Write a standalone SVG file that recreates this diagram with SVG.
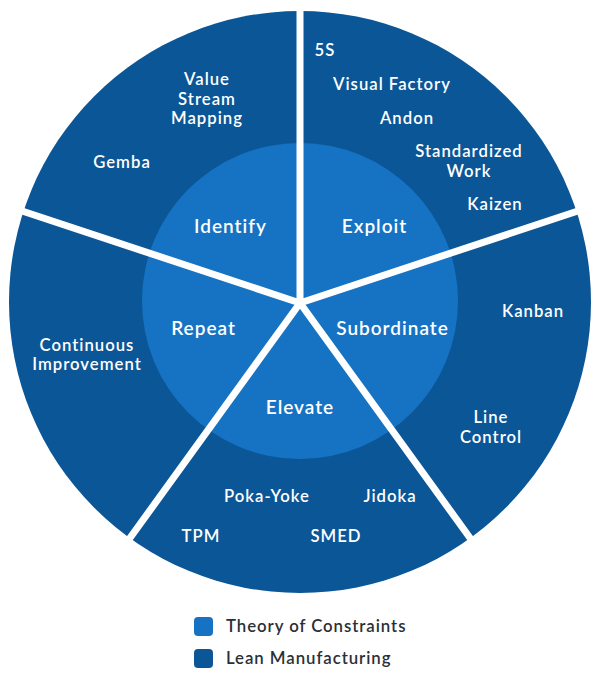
<svg xmlns="http://www.w3.org/2000/svg" width="600" height="689" viewBox="0 0 600 689">
<style>
.t{font-family:Lato,"Open Sans",sans-serif;font-weight:600;font-size:16.7px;fill:#fff;text-anchor:middle;letter-spacing:1px}
.h{font-size:19px}
.l{font-family:Lato,sans-serif;font-weight:600;font-size:16.8px;fill:#2a3038;letter-spacing:.95px}
.s{stroke:#fff;stroke-width:7;fill:none}
</style>
<rect width="600" height="689" fill="#fff"/>
<g id="outer"><circle cx="300" cy="302" r="291" fill="#0b5697"/></g>
<g id="inner"><circle cx="300" cy="301" r="158" fill="#1673c4"/></g>
<g id="connectors">
<path class="s" d="M300 303V0M300 303L590 207M300 303L478 549M300 303L122 549M300 303L10 207"/>
</g>
<g id="identify"><text class="t h" x="230.500" y="233">Identify</text></g>
<g id="exploit"><text class="t h" x="374.500" y="233">Exploit</text></g>
<g id="subordinate"><text class="t h" x="392.500" y="335">Subordinate</text></g>
<g id="elevate"><text class="t h" x="300" y="414">Elevate</text></g>
<g id="repeat"><text class="t h" x="203.500" y="335">Repeat</text></g>
<g id="vsm"><text class="t" x="207" y="85">Value</text><text class="t" x="207" y="105">Stream</text><text class="t" x="207" y="124">Mapping</text></g>
<g id="gemba"><text class="t" x="122" y="168">Gemba</text></g>
<g id="s5"><text class="t" x="325" y="56">5S</text></g>
<g id="vf"><text class="t" x="392" y="90">Visual Factory</text></g>
<g id="andon"><text class="t" x="407" y="124">Andon</text></g>
<g id="sw"><text class="t" x="469" y="157">Standardized</text><text class="t" x="469" y="177">Work</text></g>
<g id="kaizen"><text class="t" x="495" y="210">Kaizen</text></g>
<g id="kanban"><text class="t" x="533" y="317">Kanban</text></g>
<g id="lc"><text class="t" x="491" y="423">Line</text><text class="t" x="491" y="443">Control</text></g>
<g id="jidoka"><text class="t" x="390" y="502">Jidoka</text></g>
<g id="poka"><text class="t" x="267" y="502">Poka-Yoke</text></g>
<g id="smed"><text class="t" x="336" y="542">SMED</text></g>
<g id="tpm"><text class="t" x="201" y="542">TPM</text></g>
<g id="ci"><text class="t" x="87" y="350.500">Continuous</text><text class="t" x="87" y="370">Improvement</text></g>
<g id="legend-toc"><rect x="194" y="617" width="19" height="19" rx="4" fill="#1673c4"/><text class="l" x="226" y="632">Theory of Constraints</text></g>
<g id="legend-lean"><rect x="194" y="649" width="19" height="19" rx="4" fill="#0b5697"/><text class="l" x="226" y="664">Lean Manufacturing</text></g>
</svg>
